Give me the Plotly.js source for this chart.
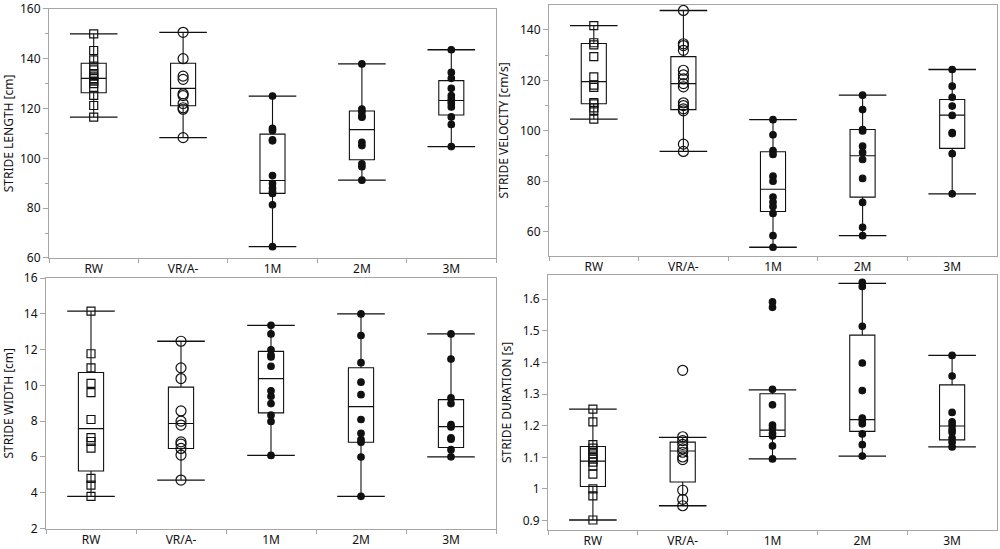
<!DOCTYPE html>
<html>
<head>
<meta charset="utf-8">
<script src="https://cdn.plot.ly/plotly-3.0.1.min.js"></script>
<style>
  html, body { margin: 0; padding: 0; background: #fff; }
  #chart { width: 1000px; height: 549px; }
</style>
</head>
<body>
<div id="chart"></div>
<script>
/* ---------------- categories ---------------- */
var groups = ['RW', 'VR/A-', '1M', '2M', '3M'];

/* ---------------- stride length [cm] ---------------- */
var lengthPts = [
  [150, 143.3, 139.5, 137, 135.5, 134, 133, 132, 131, 130, 128.3, 125.3, 121.2, 116.5],
  [150.6, 140, 133, 131.7, 125.9, 125.2, 122, 120.3, 119.7, 108.3],
  [125, 112, 111.2, 107.4, 107, 93.1, 89.9, 88, 86.6, 85.9, 81.3, 64.5],
  [137.9, 119.8, 118.7, 117, 116.5, 106.4, 105.1, 97.8, 96.6, 91.2],
  [143.6, 134.5, 132.1, 128.1, 125.2, 123.9, 123, 122, 120.6, 116.6, 113.6, 104.7]
];
var lengthQ1  = [126.3, 121.1, 85.9, 99.4, 117.4];
var lengthMed = [132.1, 128.1, 91.1, 111.5, 123.2];
var lengthQ3  = [138.2, 138.2, 109.7, 119, 131.2];
var lengthLo  = [116.5, 108.3, 64.5, 91.2, 104.7];
var lengthHi  = [150, 150.6, 125, 137.9, 143.6];

/* ---------------- stride velocity [cm/s] ---------------- */
var velPts = [
  [141.7, 134.9, 134.1, 129.4, 121.4, 118.1, 117.2, 111.2, 110.7, 109.1, 108.1, 104.6],
  [147.7, 134.5, 133.8, 131.9, 124, 122.2, 120.6, 118.7, 117.4, 111.1, 110, 108.7, 107.9, 94.7, 91.8],
  [104.4, 98.4, 92.1, 90.6, 82, 80, 73.7, 71.7, 70, 67.2, 58.4, 53.8],
  [114.1, 108.4, 100.5, 99.9, 93.9, 91.4, 88.6, 81.1, 71.6, 61.7, 58.4],
  [124.3, 117.7, 113.3, 109.8, 106.1, 99.3, 98.9, 90.9, 75]
];
var velQ1  = [110.7, 108.4, 68, 73.7, 93];
var velMed = [119.5, 118.7, 76.8, 90.1, 106.2];
var velQ3  = [134.6, 129.4, 91.7, 100.5, 112.4];
var velLo  = [104.6, 91.8, 53.8, 58.4, 75];
var velHi  = [141.7, 147.7, 104.4, 114.1, 124.3];

/* ---------------- stride width [cm] ---------------- */
var widthPts = [
  [14.15, 11.77, 10.98, 10.11, 9.59, 8.09, 7.08, 6.86, 6.49, 4.79, 4.42, 3.79],
  [12.47, 10.98, 10.38, 8.57, 8.0, 7.78, 6.84, 6.71, 6.47, 6.1, 4.7],
  [13.36, 12.88, 11.99, 11.7, 11.59, 11.07, 9.7, 9.39, 8.98, 8.33, 7.98, 6.08],
  [14.0, 12.79, 11.27, 10.18, 9.48, 8.09, 7.32, 6.97, 6.82, 5.99, 3.79],
  [12.88, 11.47, 9.3, 8.98, 7.8, 7.67, 7.06, 6.99, 6.4, 6.0]
];
var widthQ1  = [5.21, 6.47, 8.46, 6.82, 6.52];
var widthMed = [7.58, 7.87, 10.38, 8.81, 7.69];
var widthQ3  = [10.72, 9.9, 11.9, 10.99, 9.2];
var widthLo  = [3.79, 4.7, 6.08, 3.79, 6.0];
var widthHi  = [14.15, 12.47, 13.36, 14.0, 12.88];

/* ---------------- stride duration [s] ---------------- */
var durPts = [
  [1.252, 1.212, 1.140, 1.129, 1.12, 1.111, 1.10, 1.094, 1.085, 1.073, 1.047, 1.0, 0.978, 0.902],
  [1.375, 1.165, 1.153, 1.141, 1.127, 1.116, 1.101, 1.093, 0.996, 0.967, 0.947],
  [1.591, 1.574, 1.315, 1.266, 1.202, 1.192, 1.176, 1.167, 1.136, 1.095],
  [1.653, 1.640, 1.514, 1.398, 1.311, 1.224, 1.216, 1.206, 1.174, 1.14, 1.104],
  [1.422, 1.357, 1.242, 1.212, 1.201, 1.188, 1.179, 1.161, 1.148, 1.133]
];
var durQ1  = [1.008, 1.022, 1.166, 1.182, 1.155];
var durMed = [1.088, 1.12, 1.186, 1.219, 1.199];
var durQ3  = [1.134, 1.148, 1.301, 1.486, 1.329];
var durLo  = [0.902, 0.947, 1.095, 1.104, 1.133];
var durHi  = [1.252, 1.163, 1.313, 1.650, 1.422];

/* ---------------- styles ---------------- */
var ink = '#111111';
var frame = '#a6a6a6';
var symbols = ['square-open', 'circle-open', 'circle', 'circle', 'circle'];
var sizes = [8, 10, 6.5, 6.5, 6.5];

function panelTraces(n, pts, q1, med, q3, lo, hi) {
  var xa = n === 1 ? 'x' : 'x' + n;
  var ya = n === 1 ? 'y' : 'y' + n;
  var traces = [];

  // box + whiskers from the read-off stats
  traces.push({
    type: 'box',
    x: groups, q1: q1, median: med, q3: q3, lowerfence: lo, upperfence: hi,
    boxpoints: false, width: 0.28, whiskerwidth: 0,
    fillcolor: 'rgba(0,0,0,0)',
    line: {color: ink, width: 1.1},
    xaxis: xa, yaxis: ya, hoverinfo: 'skip'
  });

  // whisker caps
  traces.push({
    type: 'scatter', mode: 'markers',
    x: groups.concat(groups), y: lo.concat(hi),
    marker: {symbol: 'line-ew-open', size: 34, color: ink, opacity: 1,
             line: {color: ink, width: 1.3}},
    xaxis: xa, yaxis: ya, hoverinfo: 'skip'
  });

  // raw points
  var px = [], py = [], ps = [], pz = [];
  for (var g = 0; g < groups.length; g++) {
    for (var k = 0; k < pts[g].length; k++) {
      px.push(groups[g]);
      py.push(pts[g][k]);
      ps.push(symbols[g]);
      pz.push(sizes[g]);
    }
  }
  traces.push({
    type: 'scatter', mode: 'markers',
    x: px, y: py,
    marker: {symbol: ps, size: pz, color: ink, opacity: 1,
             line: {color: ink, width: 1.2}},
    xaxis: xa, yaxis: ya
  });
  return traces;
}

var data = []
  .concat(panelTraces(1, lengthPts, lengthQ1, lengthMed, lengthQ3, lengthLo, lengthHi))
  .concat(panelTraces(2, velPts, velQ1, velMed, velQ3, velLo, velHi))
  .concat(panelTraces(3, widthPts, widthQ1, widthMed, widthQ3, widthLo, widthHi))
  .concat(panelTraces(4, durPts, durQ1, durMed, durQ3, durLo, durHi));

function xAxis(domain, anchor) {
  return {
    domain: domain, anchor: anchor, type: 'category',
    categoryorder: 'array', categoryarray: groups,
    range: [-0.5, 4.5], tickson: 'boundaries',
    ticks: 'outside', ticklen: 4, tickcolor: frame,
    showline: true, mirror: true, linecolor: frame, linewidth: 1,
    showgrid: false, zeroline: false,
    tickfont: {size: 12, color: ink}
  };
}

function yAxis(domain, anchor, range, dtick, minor, title) {
  var ax = {
    domain: domain, anchor: anchor, range: range, dtick: dtick,
    ticks: 'outside', ticklen: 5, tickcolor: frame,
    showline: true, mirror: true, linecolor: frame, linewidth: 1,
    showgrid: false, zeroline: false, ticklabeloverflow: 'allow',
    tickfont: {size: 12, color: ink},
    title: {text: title, font: {size: 12, color: ink}, standoff: 8}
  };
  if (minor) ax.minor = {dtick: minor, ticks: 'outside', ticklen: 3, tickcolor: frame, showgrid: false};
  return ax;
}

var layout = {
  width: 1000, height: 549,
  margin: {l: 0, r: 0, t: 0, b: 0},
  paper_bgcolor: '#fff', plot_bgcolor: '#fff',
  showlegend: false,
  font: {family: 'Noto Sans, Open Sans, sans-serif', color: ink},
  xaxis:  xAxis([0.049, 0.496], 'y'),
  yaxis:  yAxis([0.530, 0.984], 'x', [59.95, 160.05], 20, 10, 'STRIDE LENGTH [cm]'),
  xaxis2: xAxis([0.549, 0.997], 'y2'),
  yaxis2: yAxis([0.534, 0.991], 'x2', [50.4, 149.9], 20, 10, 'STRIDE VELOCITY [cm/s]'),
  xaxis3: xAxis([0.046, 0.496], 'y3'),
  yaxis3: yAxis([0.037, 0.494], 'x3', [1.98, 16.02], 2, null, 'STRIDE WIDTH [cm]'),
  xaxis4: xAxis([0.548, 0.997], 'y4'),
  yaxis4: yAxis([0.035, 0.499], 'x4', [0.871, 1.676], 0.1, null, 'STRIDE DURATION [s]')
};

Plotly.newPlot('chart', data, layout, {displayModeBar: false, staticPlot: true});
</script>
</body>
</html>
